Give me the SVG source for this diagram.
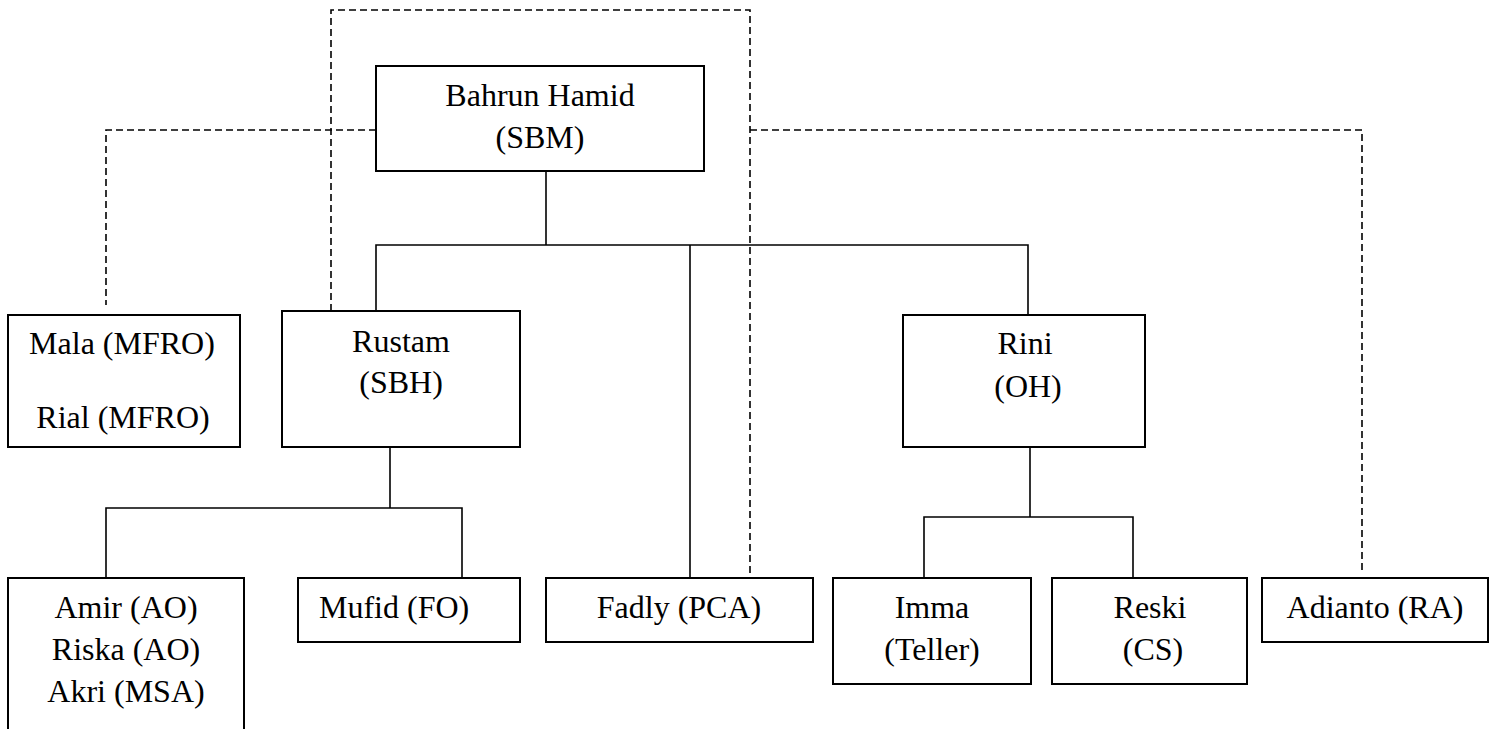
<svg xmlns="http://www.w3.org/2000/svg" width="1491" height="729" viewBox="0 0 1491 729">
<style>
.box{fill:#fff;stroke:#000;stroke-width:2}
.ln{fill:none;stroke:#000;stroke-width:1.6}
.dl{fill:none;stroke:#000;stroke-width:1.6;stroke-dasharray:7 4}
.st{text-anchor:start}
</style>
<rect width="1491" height="729" fill="#fff"/>
<g id="connectors">
<path class="dl" d="M331,311 V10 H750 V578"/>
<path class="dl" d="M376,130 H106 V305"/>
<path class="dl" d="M750,130 H1362 V570"/>
<path class="ln" d="M546,171 V245"/>
<path class="ln" d="M376,311 V245 H1028 V315"/>
<path class="ln" d="M690,245 V578"/>
<path class="ln" d="M390,447 V508"/>
<path class="ln" d="M106,578 V508 H462 V578"/>
<path class="ln" d="M1030,447 V517"/>
<path class="ln" d="M924,578 V517 H1133 V578"/>
</g>
<g font-family="Liberation Serif, Times New Roman, DejaVu Serif, serif" font-size="32" fill="#000" text-anchor="middle">
<g id="n-bahrun"><rect class="box" x="376" y="66" width="328" height="105"/><text x="540" y="106">Bahrun Hamid</text><text x="540" y="148">(SBM)</text></g>
<g id="n-mala"><rect class="box" x="8" y="315" width="232" height="132"/><text x="122" y="354">Mala (MFRO)</text><text x="123" y="428">Rial (MFRO)</text></g>
<g id="n-rustam"><rect class="box" x="282" y="311" width="238" height="136"/><text x="401" y="352">Rustam</text><text x="401" y="393">(SBH)</text></g>
<g id="n-rini"><rect class="box" x="903" y="315" width="242" height="132"/><text x="1025" y="354">Rini</text><text x="1028" y="397">(OH)</text></g>
<g id="n-amir"><path class="box" d="M8,740 V578 H244 V740"/><text x="126" y="618">Amir (AO)</text><text x="126" y="660">Riska (AO)</text><text x="126" y="702">Akri (MSA)</text></g>
<g id="n-mufid"><rect class="box" x="298" y="578" width="222" height="64"/><text class="st" x="319" y="618">Mufid (FO)</text></g>
<g id="n-fadly"><rect class="box" x="546" y="578" width="267" height="64"/><text x="679" y="618">Fadly (PCA)</text></g>
<g id="n-imma"><rect class="box" x="833" y="578" width="198" height="106"/><text x="932" y="618">Imma</text><text x="932" y="660">(Teller)</text></g>
<g id="n-reski"><rect class="box" x="1052" y="578" width="195" height="106"/><text x="1150" y="618">Reski</text><text x="1153" y="660">(CS)</text></g>
<g id="n-adianto"><rect class="box" x="1262" y="578" width="226" height="64"/><text x="1375" y="618">Adianto (RA)</text></g>
</g>
</svg>
